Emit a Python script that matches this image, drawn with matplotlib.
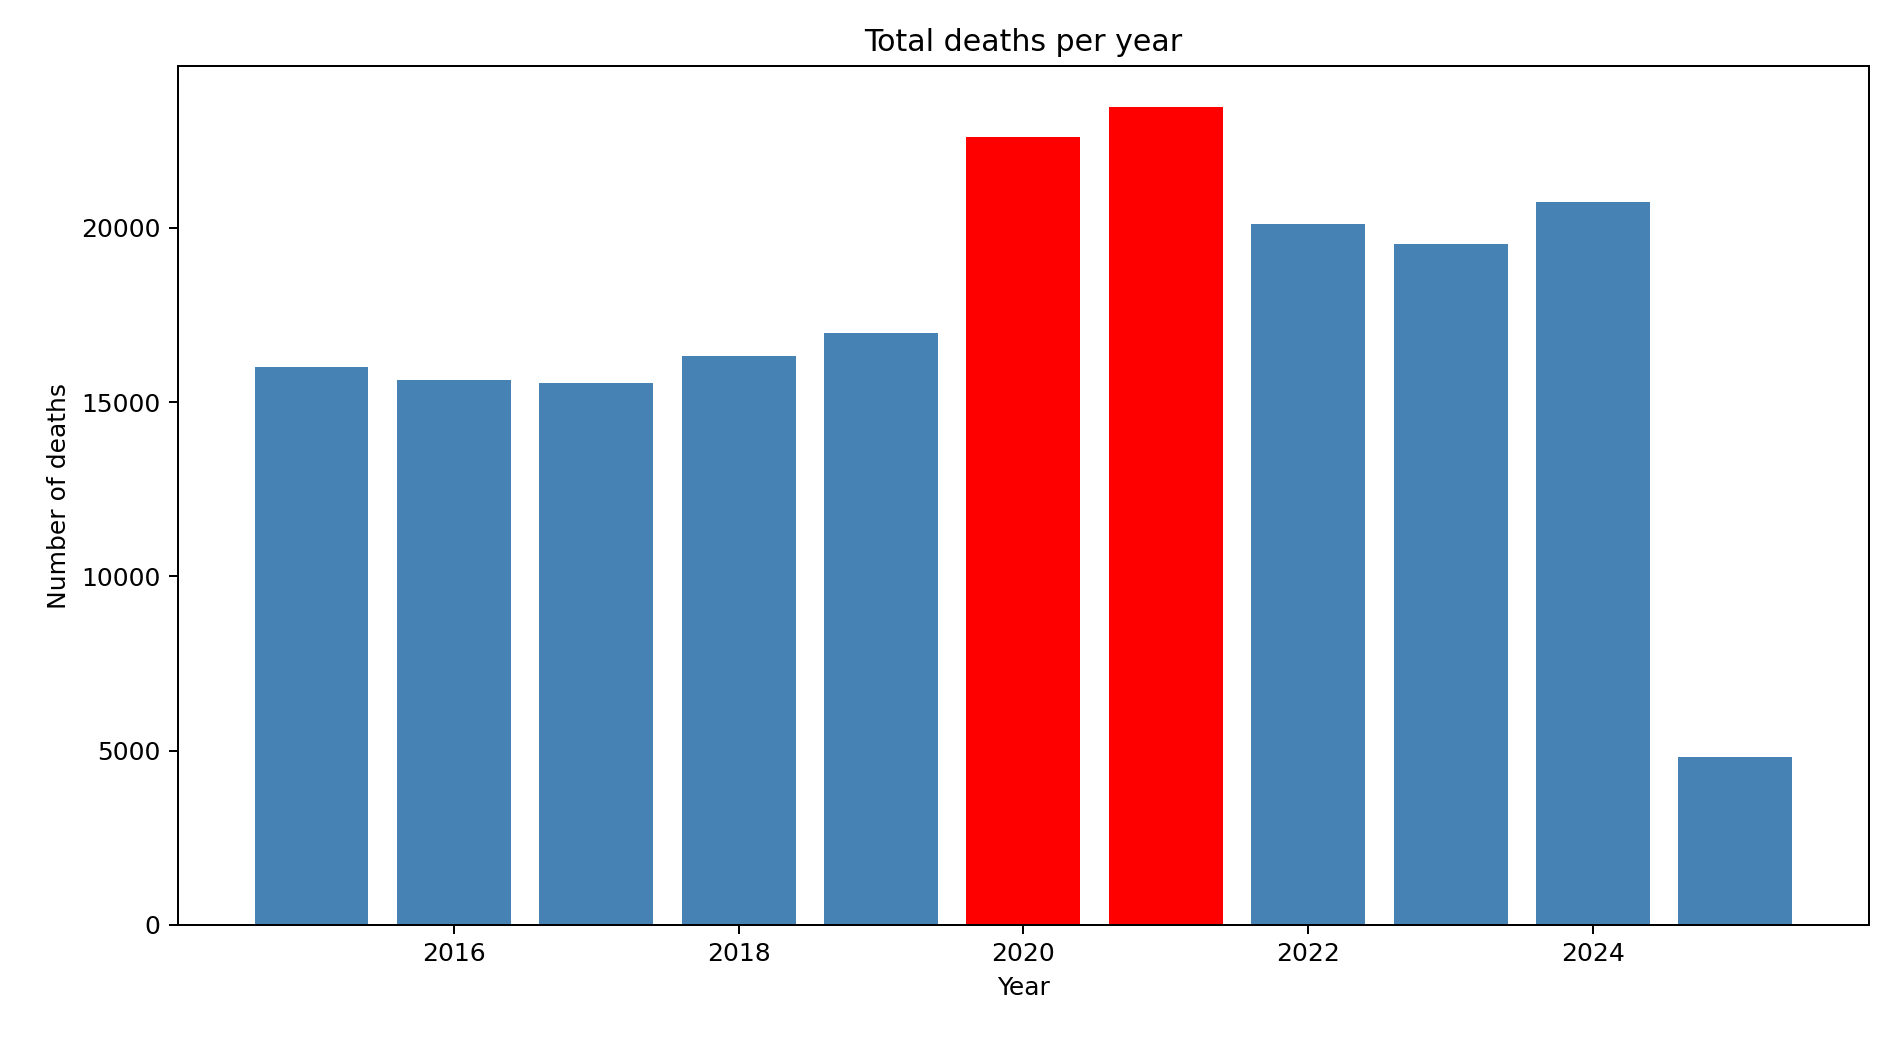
import matplotlib
matplotlib.use("Agg")
import matplotlib.pyplot as plt

years = [2015, 2016, 2017, 2018, 2019, 2020, 2021, 2022, 2023, 2024, 2025]
deaths = [16020, 15640, 15540, 16330, 16990, 22600, 23460, 20100, 19550, 20730, 4810]
covid_years = [2020, 2021]

colors = ["red" if y in covid_years else "steelblue" for y in years]

fig, ax = plt.subplots(figsize=(10.5, 5.767), dpi=180)
ax.bar(years, deaths, color=colors)
ax.set_title("Total deaths per year")
ax.set_xlabel("Year")
ax.set_ylabel("Number of deaths")
fig.subplots_adjust(left=0.094, right=0.989, top=0.936, bottom=0.109)
fig.savefig("out.png")
